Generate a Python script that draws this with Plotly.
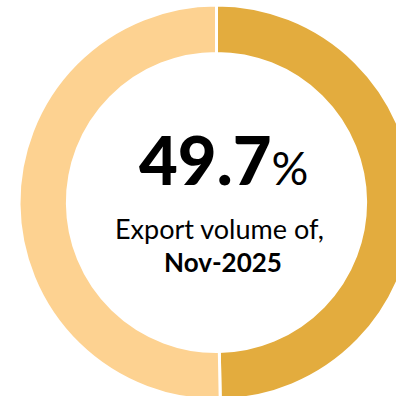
import plotly.graph_objects as go

labels = ["Nov-2025", "Other"]
values = [49.7, 50.3]
colors = ["#E3AC3E", "#FDD291"]
headline = "49.7"
subtitle = "Export volume of,"
period = "Nov-2025"

W, H = 440, 420
cx, cy, r = 216.5, 202.5, 197.5

fig = go.Figure(go.Pie(
    labels=labels, values=values, sort=False, direction="clockwise", rotation=0,
    hole=0.755, textinfo="none", hoverinfo="skip", showlegend=False,
    marker=dict(colors=colors, line=dict(color="white", width=3)),
    domain=dict(x=[(cx - r) / W, (cx + r) / W], y=[1 - (cy + r) / H, 1 - (cy - r) / H]),
))

font = "Lato"
def px(x, y):
    return x / W, 1 - y / H

ax, ay = px(223, 159)
fig.add_annotation(x=ax, y=ay, xref="paper", yref="paper", showarrow=False,
                   text=f"<span style='font-weight:900'>{headline}</span><span style='font-size:46px;font-weight:400'>%</span>",
                   font=dict(family=font, size=67, color="black"), xanchor="center", yanchor="middle")
ax, ay = px(219, 229)
fig.add_annotation(x=ax, y=ay, xref="paper", yref="paper", showarrow=False,
                   text=subtitle, font=dict(family=font, size=27, color="black"),
                   xanchor="center", yanchor="middle")
ax, ay = px(222.5, 262)
fig.add_annotation(x=ax, y=ay, xref="paper", yref="paper", showarrow=False,
                   text=f"<b>{period}</b>", font=dict(family=font, size=26, color="black"),
                   xanchor="center", yanchor="middle")

fig.update_layout(width=W, height=H, margin=dict(l=0, r=0, t=0, b=0),
                  paper_bgcolor="white", plot_bgcolor="white")

fig.write_html("out.html", config={"displayModeBar": False},
               post_script="document.body.style.margin='0';document.body.style.overflow='hidden';document.documentElement.style.overflow='hidden';")
